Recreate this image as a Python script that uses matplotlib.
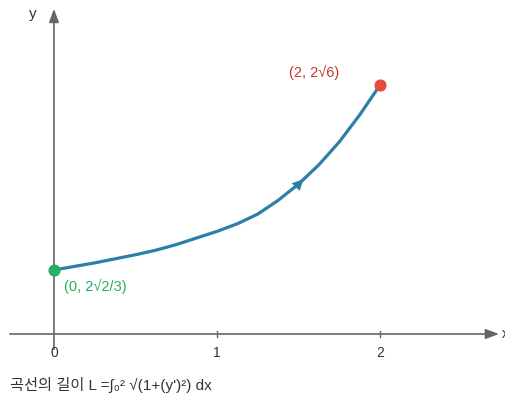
import matplotlib.pyplot as plt
import numpy as np

plt.rcParams['font.family'] = ['Liberation Sans', 'Noto Sans CJK KR', 'DejaVu Sans']

# curve points (y in drawing units, axis at 0)
curve_x = [0.0, 0.125, 0.25, 0.375, 0.5, 0.625, 0.75, 0.875, 1.0,
           1.125, 1.25, 1.375, 1.5, 1.625, 1.75, 1.875, 2.0]
curve_y = [1.26, 1.33, 1.40, 1.48, 1.56, 1.65, 1.76, 1.89, 2.02,
           2.17, 2.36, 2.63, 2.95, 3.33, 3.78, 4.31, 4.90]
tick_vals = [0, 1, 2]
tick_labels = ['0', '1', '2']
start_label = '(0, 2√2/3)'
end_label = '(2, 2√6)'
caption = '곡선의 길이 L =∫₀² √(1+(y\')²) dx'

blue = '#2e7fa8'
green = '#27ae60'
red = '#e74c3c'
red_text = '#c0392b'
axis_col = '#666666'

fig = plt.figure(figsize=(5.05, 4.01), dpi=100)
ax = fig.add_axes([0, 0, 1, 1])
ax.set_xlim(-0.331, 2.767)
ax.set_ylim(-1.319, 6.575)
ax.axis('off')

# axes with arrow heads
ax.annotate('', xy=(2.73, 0), xytext=(-0.27, 0),
            arrowprops=dict(arrowstyle='-|>,head_length=0.8,head_width=0.3',
                            color=axis_col, lw=1.2, shrinkA=0, shrinkB=0))
ax.annotate('', xy=(0, 6.4), xytext=(0, -0.3),
            arrowprops=dict(arrowstyle='-|>,head_length=0.8,head_width=0.3',
                            color=axis_col, lw=1.2, shrinkA=0, shrinkB=0))
ax.text(2.745, 0, 'x', fontsize=10, color='#333333', va='center', ha='left')
ax.text(-0.13, 6.3, 'y', fontsize=11, color='#333333', va='center', ha='center')

for v, lab in zip(tick_vals, tick_labels):
    if v != 0:
        ax.plot([v, v], [-0.06, 0.06], color=axis_col, lw=1)
    ax.text(v, -0.37, lab, fontsize=10, color='#333333', ha='center', va='center')

ax.plot(curve_x, curve_y, color=blue, lw=2.3, solid_capstyle='round', zorder=3)

# direction arrow on the curve
i = 12
ax.annotate('', xy=(curve_x[i] + 0.03, curve_y[i] + 0.1),
            xytext=(curve_x[i] - 0.02, curve_y[i] - 0.07),
            arrowprops=dict(arrowstyle='-|>,head_length=0.8,head_width=0.4',
                            color=blue, lw=0, shrinkA=0, shrinkB=0), zorder=4)

ax.scatter([curve_x[0]], [curve_y[0]], s=60, color=green, zorder=5)
ax.scatter([curve_x[-1]], [curve_y[-1]], s=60, color=red, zorder=5)
ax.text(curve_x[0] + 0.06, curve_y[0] - 0.33, start_label, fontsize=10.5, color=green,
        ha='left', va='center')
ax.text(curve_x[-1] - 0.56, curve_y[-1] + 0.24, end_label, fontsize=10.5, color=red_text,
        ha='left', va='center')

fig.text(10 / 505, 1 - 385 / 401, caption, fontsize=11, color='#333333',
         ha='left', va='center')

fig.savefig('out.png', dpi=100)
